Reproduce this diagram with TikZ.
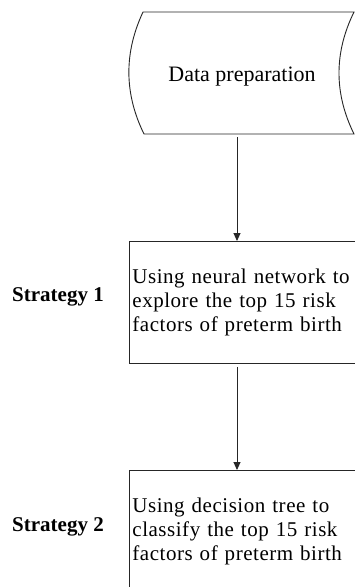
\documentclass[tikz,border=0pt]{standalone}
\usepackage{fontspec}
\setmainfont{Liberation Serif}
\newfontfamily\boxfont[LetterSpace=2.5]{Liberation Serif}
\usetikzlibrary{arrows.meta}
\begin{document}
\begin{tikzpicture}[x=1pt,y=-1pt,
  outline/.style={draw=black!85, line width=0.9pt},
  arr/.style={draw=black!85, line width=0.9pt, -{Triangle[length=8pt,width=7pt]}},
  procbox/.style={outline, anchor=north west, minimum height=122pt, text width=230pt,
    inner xsep=3pt, align=left, font=\boxfont\fontsize{21}{24}\selectfont},
  stratlabel/.style={font=\bfseries\fontsize{21}{24}\selectfont, anchor=base west, inner sep=0pt}]
\useasboundingbox (0,0) rectangle (355,587);
\fill[white] (0,0) rectangle (355,587);
\clip (0,0) rectangle (355,587);
% stored-data shape
\draw[outline] (143,12) -- (354,12)
  .. controls (334,52.7) and (334,93.3) .. (354,134)
  -- (144,134)
  .. controls (124,93.3) and (124,52.7) .. (143,12) -- cycle;
\node[font=\fontsize{22}{26}\selectfont, anchor=base] (dp) at (242,81) {Data preparation};
\coordinate (dpb) at (237,137);
% boxes
\node[procbox] (b1) at (129,241)
  {\makebox[223pt][s]{Using neural network to}\\
   \makebox[223pt][s]{explore the top 15 risk}\\
   factors of preterm birth};
\node[procbox] (b2) at (129,470)
  {\makebox[223pt][s]{Using decision tree to}\\
   \makebox[223pt][s]{classify the top 15 risk}\\
   factors of preterm birth};
\node[stratlabel] (s1) at (12,301) {Strategy 1};
\node[stratlabel] (s2) at (12,531) {Strategy 2};
% connectors
\draw[arr] (dpb) -- (dpb |- b1.north);
\path (b1.south -| dpb) ++(0,3) coordinate (b1s);
\draw[arr] (b1s) -- (dpb |- b2.north);
\end{tikzpicture}
\end{document}
